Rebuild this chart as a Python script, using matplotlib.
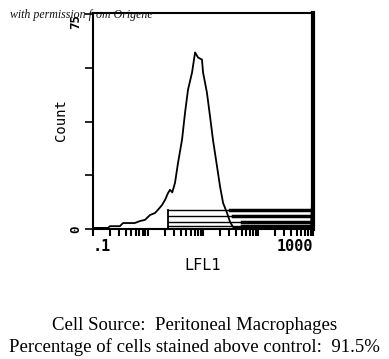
import numpy as np
import matplotlib
matplotlib.use("Agg")
import matplotlib.pyplot as plt
from matplotlib.ticker import LogLocator, NullFormatter, FixedLocator

# Histogram (log10 of LFL1 intensity, count)
log_intensity = [-1.0, -0.87, -0.73, -0.69, -0.51, -0.455, -0.24, -0.145, -0.055, 0.036,
                 0.127, 0.18, 0.255, 0.31, 0.364, 0.40, 0.44, 0.49, 0.545, 0.618,
                 0.673, 0.727, 0.80, 0.855, 0.91, 0.98, 1.0, 1.07, 1.127, 1.18,
                 1.255, 1.31, 1.364, 1.436, 1.49, 1.545, 1.70, 2.0, 2.4, 2.8,
                 2.96, 2.985, 3.0]
counts = [0.4, 0.4, 0.4, 1.0, 1.0, 2.1, 2.1, 2.8, 3.2, 4.9,
          5.6, 6.7, 8.4, 10.2, 12.6, 13.7, 12.8, 16.1, 23.1, 31.2,
          40.7, 48.7, 54.7, 61.7, 59.9, 59.2, 54.7, 47.7, 39.3, 31.2,
          21.7, 14.7, 9.1, 5.6, 2.5, 0.7, 0.4, 0.4, 0.4, 0.4,
          0.5, 11.9, 11.9]

gate_start = 2.3
gate_end = 1000
gate_levels = [6.7, 4.6, 2.5, 1.1]
gate_thick_from = [31.0, 35.0, 51.0, 51.0]

yticks = [0, 18.75, 37.5, 56.25, 75]
ytick_labels = ["0", "", "", "", "75"]
xticks = [0.1, 1, 10, 100, 1000]
xtick_labels = [".1", "", "", "", "1000"]

fig = plt.figure(figsize=(3.89, 3.59), dpi=100)
ax = fig.add_axes([0.239, 0.362, 0.566, 0.602])

x = 10 ** np.array(log_intensity)
ax.plot(x, counts, color="black", lw=1.3)

# gate markers
ax.plot([gate_start, gate_start], [0, max(gate_levels)], color="black", lw=1.3)
for lvl, tf in zip(gate_levels, gate_thick_from):
    ax.plot([gate_start, gate_end], [lvl, lvl], color="black", lw=1.0)
    ax.plot([tf, gate_end], [lvl, lvl], color="black", lw=2.5)

ax.set_xscale("log")
ax.set_xlim(0.1, 1000)
ax.set_ylim(0, 75.5)

ax.xaxis.set_major_locator(FixedLocator(xticks))
ax.set_xticklabels(xtick_labels, family="DejaVu Sans Mono", fontweight="bold", fontsize=11)
ax.xaxis.set_minor_locator(LogLocator(base=10, subs=np.arange(2, 10)))
ax.xaxis.set_minor_formatter(NullFormatter())
labs = ax.get_xticklabels()
labs[0].set_ha("left")
labs[-1].set_ha("right")
ax.tick_params(axis="x", which="both", direction="out", length=5, width=1.5, pad=2)

ax.set_yticks(yticks)
ax.set_yticklabels(ytick_labels, rotation=90, va="center",
                   family="DejaVu Sans Mono", fontweight="bold", fontsize=9)
ylabs = ax.get_yticklabels()
ylabs[-1].set_va("top")
ax.tick_params(axis="y", direction="out", length=6, width=1.2, pad=2)

for s in ["left", "bottom", "top"]:
    ax.spines[s].set_linewidth(1.5)
ax.spines["right"].set_linewidth(3)

ax.set_ylabel("Count", family="DejaVu Sans Mono", fontsize=10)
ax.yaxis.set_label_coords(-0.114, 0.505)
ax.set_xlabel("LFL1", family="DejaVu Sans Mono", fontsize=11, labelpad=3)

fig.text(0.026, 0.958, "with permission from Origene", family="Liberation Serif",
         style="italic", fontsize=8.6, va="center", ha="left", color="#111111")

fig.text(0.5, 0.092, "Cell Source:  Peritoneal Macrophages", family="Liberation Serif",
         fontsize=13.5, ha="center", va="center")
fig.text(0.5, 0.033, "Percentage of cells stained above control:  91.5%",
         family="Liberation Serif", fontsize=13.5, ha="center", va="center")

fig.savefig("out.png", dpi=100)
